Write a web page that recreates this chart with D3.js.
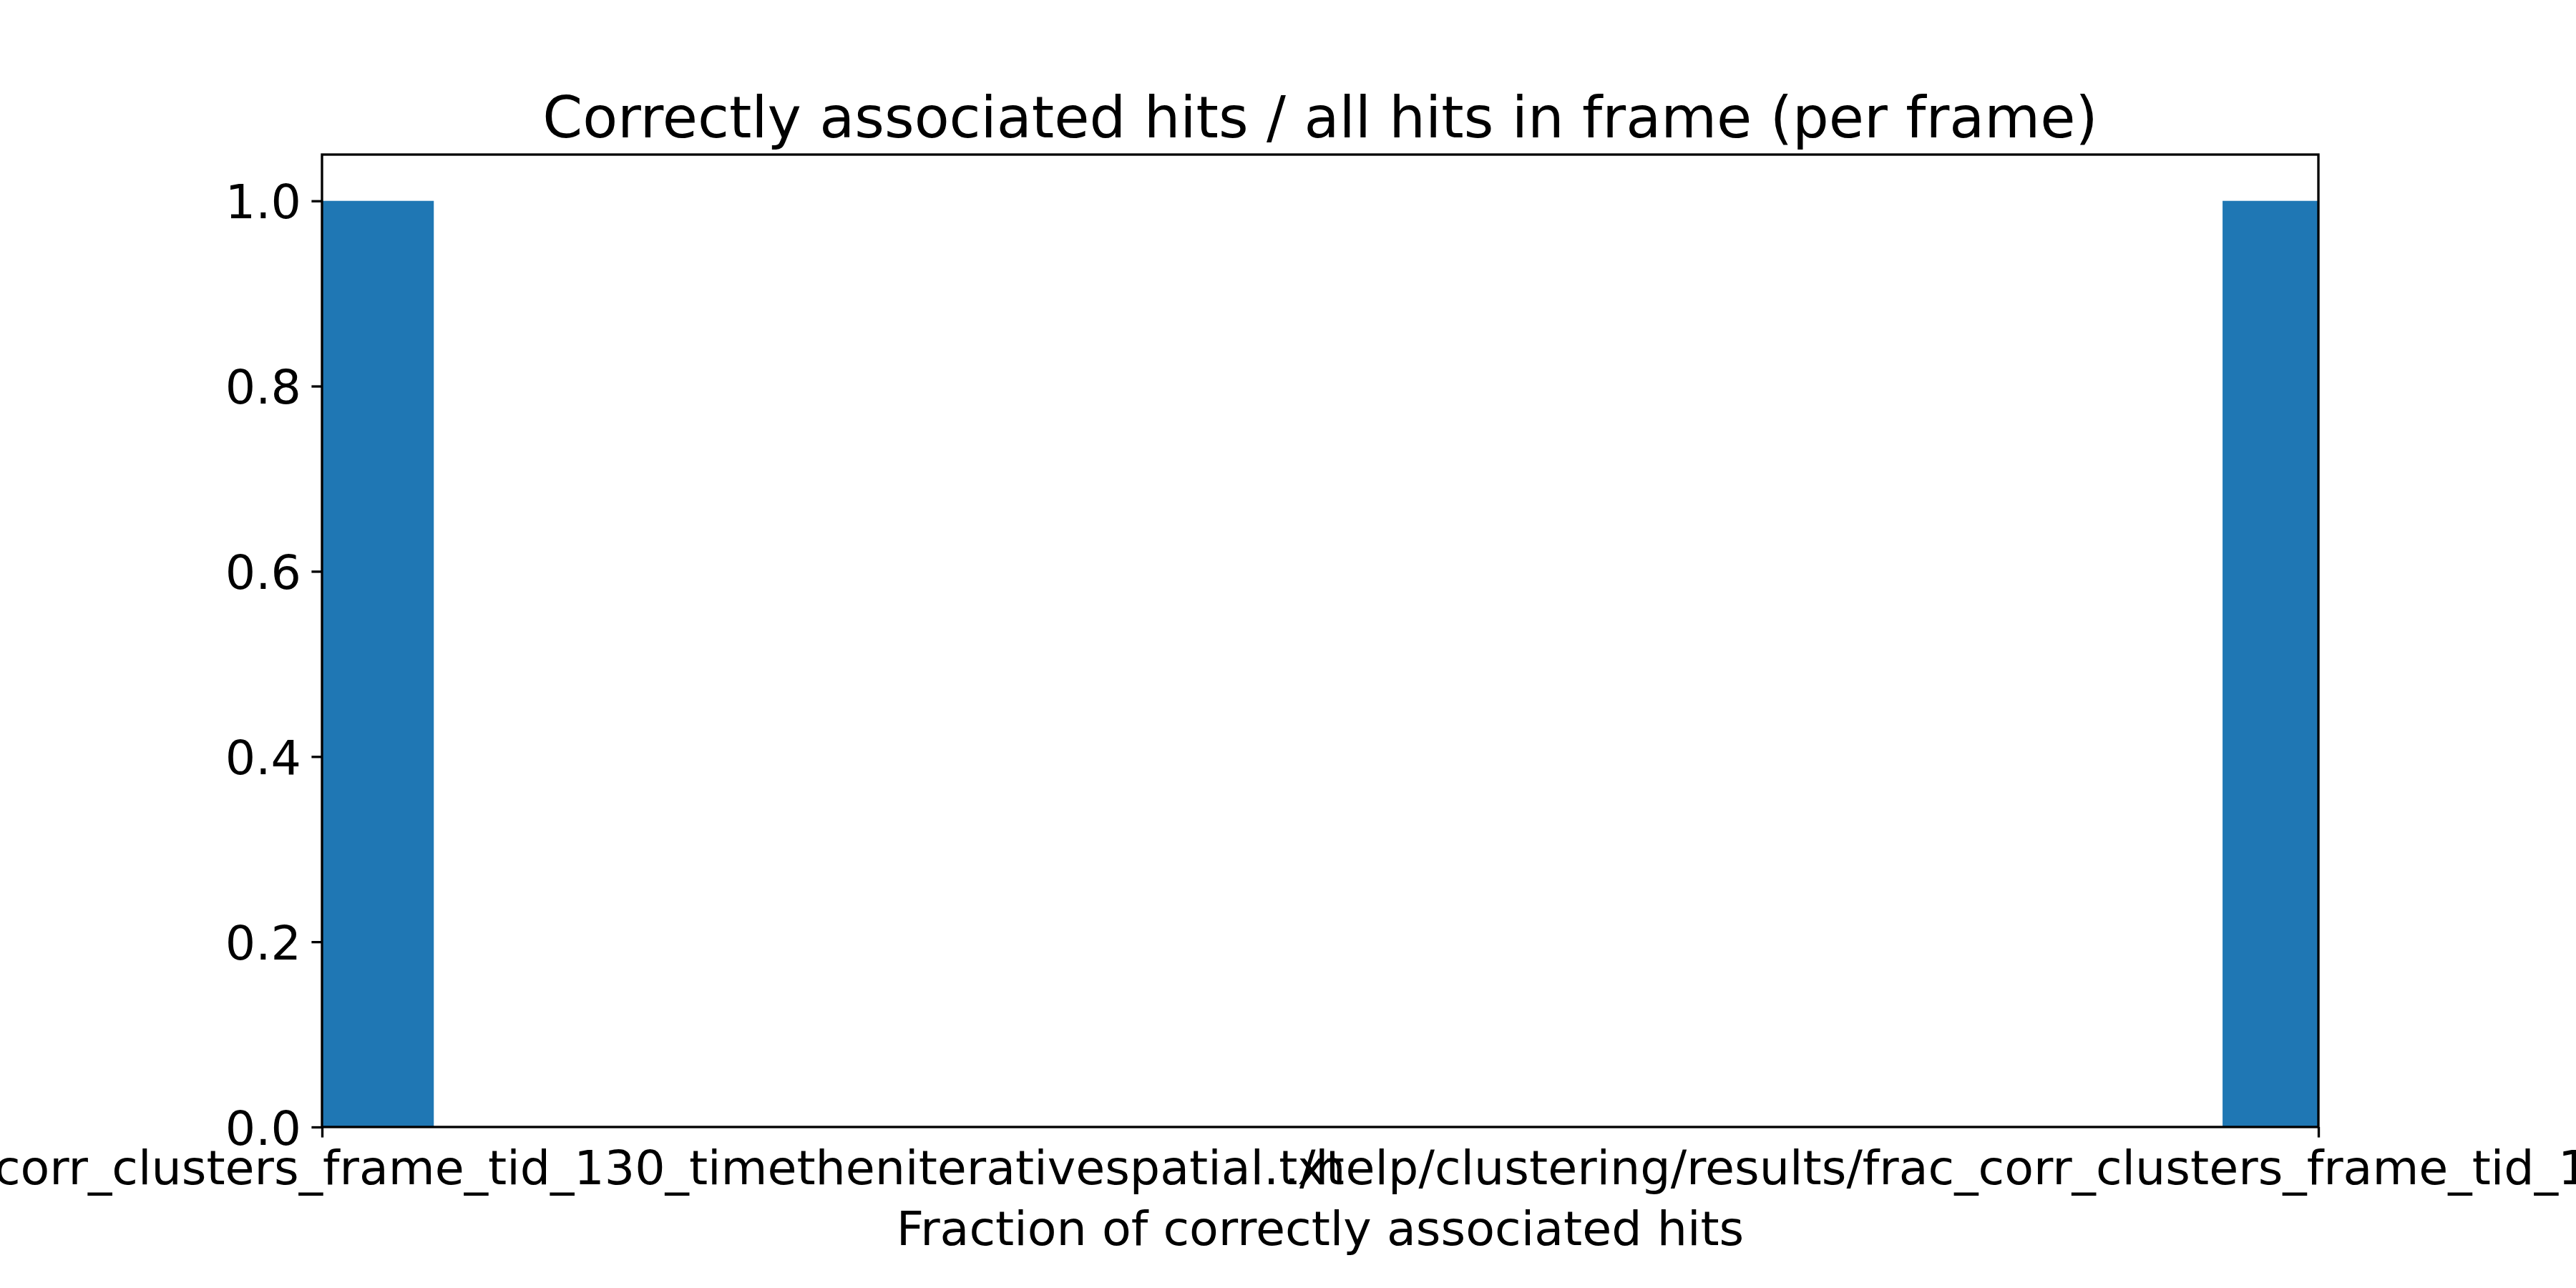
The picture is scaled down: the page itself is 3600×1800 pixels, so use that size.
<!DOCTYPE html>
<html>
<head>
<meta charset="utf-8">
<script src="https://cdn.jsdelivr.net/npm/d3@7"></script>
<style>
  html, body { margin: 0; padding: 0; background: #fff; }
  svg { display: block; }
  text { font-family: "DejaVu Sans", sans-serif; fill: #000; }
</style>
</head>
<body>
<script>
// ---- data ----
const categories = [
  "./help/clustering/results/frac_corr_clusters_frame_tid_130_timetheniterativespatial.txt",
  "./help/clustering/results/frac_corr_clusters_frame_tid_130_spatialtheniterativetimes.txt"
];
const categoryPositions = [0, 1];
const binStart = [0.0, 0.952];
const binEnd = [0.056, 1.0];
const binCounts = [1.0, 1.0];
const yTicks = [0.0, 0.2, 0.4, 0.6, 0.8, 1.0];
const titleText = "Correctly associated hits / all hits in frame (per frame)";
const xLabelText = "Fraction of correctly associated hits";

// ---- layout ----
const W = 3600, H = 1800;
const mLeft = 450, mRight = 3240, mTop = 216, mBottom = 1575;
const lw = 3.33, tickLen = 14.6;

const svg = d3.select("body").append("svg").attr("width", W).attr("height", H);
svg.append("rect").attr("width", W).attr("height", H).attr("fill", "#fff");

const x = d3.scaleLinear().domain([0, 1]).range([mLeft, mRight]);
const y = d3.scaleLinear().domain([0, 1.05]).range([mBottom, mTop]);

// bars
svg.append("g").selectAll("rect").data(binCounts).join("rect")
  .attr("x", (d, i) => x(binStart[i]))
  .attr("width", (d, i) => x(binEnd[i]) - x(binStart[i]))
  .attr("y", d => y(d))
  .attr("height", d => y(0) - y(d))
  .attr("fill", "#1f77b4");

// y axis
const yAxis = d3.axisLeft(y).tickValues(yTicks).tickFormat(d3.format(".1f"))
  .tickSize(tickLen).tickPadding(14.6);
const gy = svg.append("g").attr("transform", `translate(${mLeft},0)`).call(yAxis);
gy.select(".domain").remove();
gy.selectAll(".tick line").attr("stroke", "#000").attr("stroke-width", lw);
gy.selectAll(".tick text").attr("font-size", 66.67).attr("font-family", "DejaVu Sans")
  .attr("dy", "0.36em").attr("fill", "#000");

// x axis
const xAxis = d3.axisBottom(x).tickValues(categoryPositions)
  .tickFormat((d, i) => categories[i]).tickSize(tickLen).tickPadding(14.6);
const gx = svg.append("g").attr("transform", `translate(0,${mBottom})`).call(xAxis);
gx.select(".domain").remove();
gx.selectAll(".tick line").attr("stroke", "#000").attr("stroke-width", lw);
gx.selectAll(".tick text").attr("font-size", 66.67).attr("font-family", "DejaVu Sans")
  .attr("dy", "0.76em").attr("fill", "#000");

// frame
svg.append("rect").attr("x", mLeft).attr("y", mTop)
  .attr("width", mRight - mLeft).attr("height", mBottom - mTop)
  .attr("fill", "none").attr("stroke", "#000").attr("stroke-width", lw)
  .attr("stroke-linejoin", "miter");

// title
svg.append("text").attr("x", (mLeft + mRight) / 2).attr("y", 192)
  .attr("text-anchor", "middle").attr("font-size", 80).text(titleText);

// x label
svg.append("text").attr("x", (mLeft + mRight) / 2).attr("y", 1740)
  .attr("text-anchor", "middle").attr("font-size", 66.67).text(xLabelText);
</script>
</body>
</html>
